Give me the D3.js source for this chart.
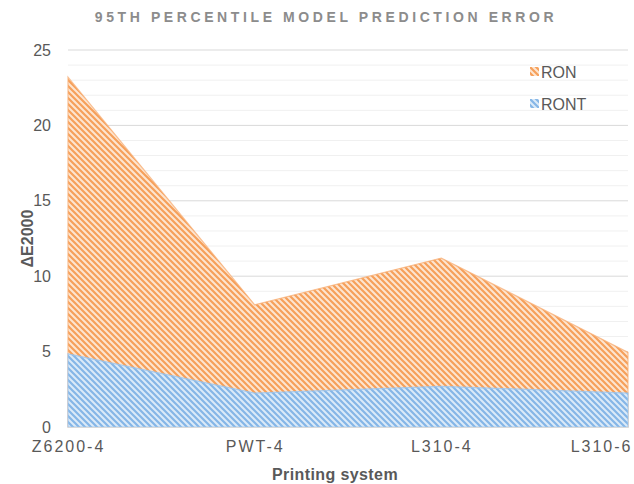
<!DOCTYPE html>
<html>
<head>
<meta charset="utf-8">
<script src="https://cdn.jsdelivr.net/npm/d3@7"></script>
<style>
  body { margin: 0; background: #fff; }
  svg text { font-family: "Liberation Sans", Arial, sans-serif; }
</style>
</head>
<body>
<div id="chart"></div>
<script>
// --------------- Data ---------------
const systems = ["Z6200-4", "PWT-4", "L310-4", "L310-6"];
const ron = [23.2, 8.1, 11.2, 4.95];
const ront = [4.85, 2.25, 2.7, 2.25];
const yTicks = [0, 5, 10, 15, 20, 25];

// --------------- Constants ---------------
const WIDTH = 634;
const HEIGHT = 484;
const MARGINS = { top: 50, right: 4, bottom: 57, left: 68 };
const VIS_WIDTH = WIDTH - MARGINS.left - MARGINS.right;
const VIS_HEIGHT = HEIGHT - MARGINS.top - MARGINS.bottom;

const svg = d3.select("#chart")
  .append("svg")
  .attr("width", WIDTH)
  .attr("height", HEIGHT);

// hatch patterns
const defs = svg.append("defs");
const makeHatch = (id, bg, fg) => {
  const p = defs.append("pattern")
    .attr("id", id)
    .attr("patternUnits", "userSpaceOnUse")
    .attr("width", 6)
    .attr("height", 6);
  p.append("rect").attr("width", 6).attr("height", 6).attr("fill", bg);
  p.append("path")
    .attr("d", "M-1,-1 L7,7 M-4,2 L2,8 M4,-2 L8,2")
    .attr("stroke", fg)
    .attr("stroke-width", 2.2);
};
makeHatch("hatch-ron", "#fde5d0", "#f6a05a");
makeHatch("hatch-ront", "#dbeaf8", "#85b6e7");

const X_SCALE = d3.scalePoint().domain(systems).range([0, VIS_WIDTH - 2]);
const Y_SCALE = d3.scaleLinear().domain([0, 25]).range([VIS_HEIGHT, 0]);

const g = svg.append("g").attr("transform", `translate(${MARGINS.left},${MARGINS.top})`);

// gridlines: minor every 1, major every 5
g.append("g")
  .selectAll("line")
  .data(d3.range(1, 26))
  .join("line")
  .attr("x1", 0)
  .attr("x2", VIS_WIDTH - 2)
  .attr("y1", (d) => Y_SCALE(d))
  .attr("y2", (d) => Y_SCALE(d))
  .attr("stroke", (d) => (d % 5 === 0 ? "#d9d9d9" : "#f0f0f0"))
  .attr("stroke-width", 1);

const area = (vals) => d3.area()
  .x((d, i) => X_SCALE(systems[i]))
  .y0(Y_SCALE(0))
  .y1((d) => Y_SCALE(d))(vals);

g.append("path")
  .attr("d", area(ron))
  .attr("fill", "url(#hatch-ron)")
  .attr("stroke", "#f7b27a")
  .attr("stroke-width", 1.2)
  .attr("stroke-opacity", 0.8);

g.append("path")
  .attr("d", area(ront))
  .attr("fill", "url(#hatch-ront)")
  .attr("stroke", "#9cc4ec")
  .attr("stroke-width", 1.2)
  .attr("stroke-opacity", 0.8);

// axes
const yAxis = g.append("g")
  .call(d3.axisLeft(Y_SCALE).tickValues(yTicks).tickSize(0).tickPadding(17));
yAxis.select(".domain").remove();
yAxis.selectAll("text")
  .attr("font-size", "16px")
  .attr("fill", "#595959");

const xAxis = g.append("g")
  .attr("transform", `translate(0,${VIS_HEIGHT})`)
  .call(d3.axisBottom(X_SCALE).tickSize(0).tickPadding(14));
xAxis.select(".domain").attr("stroke", "#d9d9d9");
xAxis.selectAll("text")
  .attr("font-size", "16px")
  .attr("letter-spacing", "2px")
  .attr("fill", "#595959")
  .attr("text-anchor", (d, i) => (i === systems.length - 1 ? "end" : "middle"))
  .attr("dx", (d, i) => (i === systems.length - 1 ? "4" : "0"));

// title
svg.append("text")
  .attr("x", 326)
  .attr("y", 22)
  .attr("text-anchor", "middle")
  .attr("font-size", "14px")
  .attr("font-weight", "bold")
  .attr("letter-spacing", "3.6px")
  .attr("fill", "#8c8c8c")
  .text("95TH PERCENTILE MODEL PREDICTION ERROR");

// axis titles
svg.append("text")
  .attr("x", 335)
  .attr("y", 480)
  .attr("text-anchor", "middle")
  .attr("font-size", "16px")
  .attr("font-weight", "bold")
  .attr("letter-spacing", "0.4px")
  .attr("fill", "#595959")
  .text("Printing system");

svg.append("text")
  .attr("transform", `translate(33,${MARGINS.top + VIS_HEIGHT / 2}) rotate(-90)`)
  .attr("text-anchor", "middle")
  .attr("font-size", "16px")
  .attr("font-weight", "bold")
  .attr("fill", "#595959")
  .text("ΔE2000");

// legend
const legend = svg.append("g").attr("transform", "translate(530,67)");
const legendItems = [
  { name: "RON", fill: "url(#hatch-ron)" },
  { name: "RONT", fill: "url(#hatch-ront)" },
];
legendItems.forEach((item, i) => {
  const row = legend.append("g").attr("transform", `translate(0,${i * 32})`);
  row.append("rect").attr("width", 9).attr("height", 9).attr("fill", item.fill);
  row.append("text")
    .attr("x", 11)
    .attr("y", 11)
    .attr("font-size", "16px")
    .attr("fill", "#595959")
    .text(item.name);
});
</script>
</body>
</html>
